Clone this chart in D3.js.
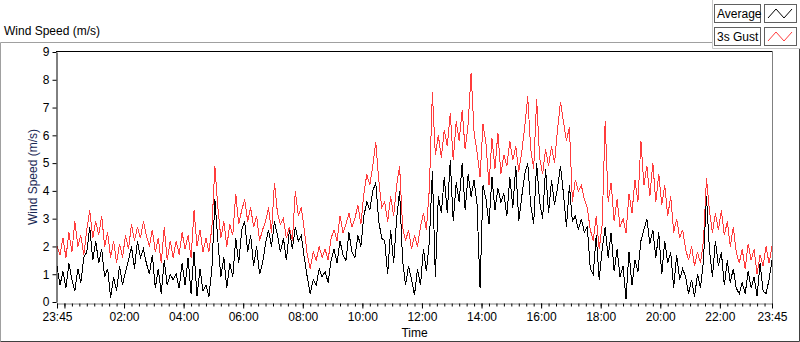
<!DOCTYPE html>
<html>
<head>
<meta charset="utf-8">
<script src="https://cdn.jsdelivr.net/npm/d3@7"></script>
<style>
  body { margin: 0; background: #fff; }
  svg { display: block; font-family: "Liberation Sans", Arial, sans-serif; }
</style>
</head>
<body>
<div class="chart-container"></div>
<script>
// samples every 6 minutes, starting 23:45 the day before
var startTime = new Date(2000, 0, 1, 23, 45);
var stepMinutes = 6;

// 3s gust (red), one row per hour
var gustValues = [
  2.0,1.7,2.3,1.6,2.5,1.8,2.9,2.0,2.4,1.7,
  2.6,3.3,2.3,2.9,2.4,3.1,2.0,2.5,1.6,2.2,
  1.4,2.1,1.6,2.4,1.9,2.8,2.2,2.7,2.3,2.9,
  2.4,2.0,2.6,1.8,2.3,1.4,2.7,1.5,2.2,1.6,
  2.2,1.7,2.5,1.9,2.4,1.6,3.3,2.0,2.6,1.8,
  2.3,1.8,2.7,4.9,3.4,2.3,2.9,2.0,2.8,2.4,
  3.9,2.8,3.3,3.7,2.9,3.4,2.7,3.1,2.2,2.6,
  2.9,3.4,2.5,4.3,3.2,2.8,3.0,2.3,2.7,2.2,
  4.0,3.1,3.4,2.6,1.7,1.2,1.8,1.5,2.0,1.6,
  1.9,1.5,2.3,2.6,2.2,3.1,2.5,2.8,3.2,2.7,
  3.0,3.5,2.8,3.9,4.6,4.2,4.9,5.75,4.4,3.4,
  3.6,2.9,3.8,3.1,4.2,4.9,2.7,2.2,2.6,1.9,
  2.4,2.0,2.7,3.2,2.6,4.1,7.55,5.3,6.0,5.2,
  6.2,5.6,6.8,5.1,6.5,5.8,6.9,5.5,6.4,8.25,
  6.1,5.4,4.5,6.4,5.7,4.2,5.9,4.8,6.1,4.6,
  5.3,4.9,5.8,5.1,5.6,4.7,5.4,6.3,7.4,5.5,
  4.8,7.3,5.2,4.6,5.5,4.9,5.6,5.0,6.2,7.2,
  6.5,5.8,6.3,3.6,4.4,4.0,4.2,3.7,3.4,2.6,
  2.2,3.1,1.9,2.8,6.5,3.6,4.3,2.9,3.7,2.7,
  3.0,2.5,3.9,3.2,4.4,3.6,5.8,4.2,4.9,3.8,
  5.0,3.6,4.6,3.5,4.2,3.1,3.8,2.5,3.0,2.3,
  2.6,1.9,1.5,2.0,1.3,1.8,1.4,2.2,4.45,3.3,
  2.5,3.2,2.6,3.3,2.4,2.9,2.0,2.7,1.8,1.4,
  1.9,1.2,2.1,1.5,1.9,1.0,1.7,1.3,2.0,1.4,2.0
];

// average (black)
var averageValues = [
  1.3,0.6,1.1,0.5,1.4,0.8,0.4,1.2,0.7,1.6,
  1.8,2.7,1.5,2.2,1.4,1.9,0.9,1.2,0.15,0.9,
  0.4,1.3,0.6,1.1,1.5,2.0,1.2,2.2,1.6,1.9,
  1.4,1.0,1.7,0.5,1.2,0.3,1.5,0.6,1.0,0.8,
  1.0,0.5,1.4,0.6,1.6,0.3,1.8,0.2,1.2,0.4,
  0.6,0.2,1.2,3.7,2.2,0.9,1.6,0.5,1.4,0.9,
  2.3,1.4,2.6,2.9,1.8,2.4,1.3,2.0,1.0,1.4,
  2.1,2.6,2.0,2.9,2.4,1.8,2.3,1.5,2.6,1.9,
  2.7,2.2,2.4,1.6,0.9,0.3,0.8,0.6,1.2,0.9,
  1.1,0.7,1.5,1.9,1.4,2.2,1.7,1.5,2.5,1.8,
  1.6,2.4,2.0,3.1,3.6,3.3,4.0,4.3,2.9,2.3,
  2.2,1.0,2.6,1.4,3.0,4.0,1.5,0.6,1.3,0.8,
  0.25,1.2,0.6,1.9,1.1,2.2,4.7,0.9,3.8,3.2,
  4.5,3.2,5.1,2.9,4.3,3.6,5.0,3.3,4.6,3.8,
  4.4,3.5,0.5,4.2,3.7,2.8,4.5,3.3,4.1,3.6,
  3.9,3.1,4.5,3.4,4.9,2.9,3.8,4.6,5.0,3.5,
  2.8,5.0,3.6,3.0,4.8,3.2,4.4,3.5,4.1,4.9,
  3.9,2.7,4.2,2.9,3.1,2.6,3.0,2.5,2.7,1.2,
  1.0,2.4,0.8,1.9,2.7,1.6,2.5,1.1,1.9,0.9,
  1.3,0.1,1.8,0.6,1.5,1.1,2.2,2.6,3.0,2.1,
  2.6,1.6,2.5,1.0,2.2,1.4,1.8,0.5,1.7,0.8,
  1.2,0.9,0.3,0.8,0.2,1.0,0.5,1.5,3.8,1.9,
  0.9,2.2,1.3,1.8,0.6,1.5,0.7,1.2,0.5,0.3,
  0.7,0.3,1.1,0.5,0.9,0.2,1.4,0.4,0.3,0.8,1.5
];

var yTickValues = [0, 1, 2, 3, 4, 5, 6, 7, 8, 9];
var xLabelHours = [2, 4, 6, 8, 10, 12, 14, 16, 18, 20, 22];
var seriesNames = ["Average", "3s Gust"];
var seriesColors = ["#000000", "#ff3c3c"];

var ChartBuilder = (function() {
  var width = 800, height = 342;
  var plot = { left: 57, right: 772, top: 52, bottom: 302 };

  var _timeAt = function(i) {
    return new Date(startTime.getTime() + i * stepMinutes * 60000);
  };

  var build = function() {
    var endTime = d3.timeHour.offset(startTime, 24);

    var svg = d3.select(".chart-container")
                .append("svg")
                  .attr("width", width)
                  .attr("height", height);

    // outer graph frame
    svg.append("path")
       .attr("d", "M0.5,341.5 V42.5 H712.5")
       .attr("fill", "none").attr("stroke", "#a0a0a0");
    svg.append("path")
       .attr("d", "M0.5,341.5 H799.5 V48.5")
       .attr("fill", "none").attr("stroke", "#404040");
    svg.append("path")
       .attr("d", "M712.5,0 V48.5 H800")
       .attr("fill", "none").attr("stroke", "#c8c8c8");

    svg.append("text")
       .attr("x", 4).attr("y", 35)
       .attr("font-size", "12px")
       .text("Wind Speed (m/s)");

    var xScale = d3.scaleTime()
                   .domain([startTime, endTime])
                   .range([plot.left, plot.right]);

    var yScale = d3.scaleLinear()
                   .domain([0, 9])
                   .range([plot.bottom, plot.top]);

    // plot frame: top black, right gray
    svg.append("line")
       .attr("x1", plot.left - 1).attr("x2", plot.right + 1)
       .attr("y1", plot.top - 0.5).attr("y2", plot.top - 0.5)
       .attr("stroke", "#000");
    svg.append("line")
       .attr("x1", plot.right + 0.5).attr("x2", plot.right + 0.5)
       .attr("y1", plot.top - 1).attr("y2", plot.bottom + 1)
       .attr("stroke", "#808080");

    svg.append("clipPath").attr("id", "plot-clip")
       .append("rect")
         .attr("x", plot.left).attr("y", plot.top)
         .attr("width", plot.right - plot.left)
         .attr("height", plot.bottom - plot.top);

    var line = d3.line()
                 .x(function(d, i) { return xScale(_timeAt(i)); })
                 .y(function(d) { return yScale(d); });

    var lines = svg.append("g").attr("clip-path", "url(#plot-clip)");
    lines.append("path")
         .datum(gustValues)
         .attr("d", line)
         .attr("fill", "none")
         .attr("stroke", seriesColors[1])
         .attr("stroke-width", 1)
         .attr("shape-rendering", "crispEdges");
    lines.append("path")
         .datum(averageValues)
         .attr("d", line)
         .attr("fill", "none")
         .attr("stroke", seriesColors[0])
         .attr("stroke-width", 1)
         .attr("shape-rendering", "crispEdges");

    // y axis
    var yAxis = d3.axisLeft(yScale)
                  .tickValues(yTickValues)
                  .tickSize(4)
                  .tickSizeOuter(0)
                  .tickPadding(3);
    var yG = svg.append("g")
                .attr("transform", "translate(" + (plot.left - 0.5) + ",0)")
                .call(yAxis);
    yG.select(".domain").attr("stroke", "#000");
    yG.selectAll("text").attr("font-size", "12px").attr("fill", "#000")
      .attr("font-family", "Liberation Sans, Arial, sans-serif");

    // x axis: minor ticks every 15 min, major every 2 h
    var xMinor = d3.axisBottom(xScale)
                   .ticks(d3.timeMinute.every(15))
                   .tickSize(3)
                   .tickSizeOuter(0)
                   .tickFormat("");
    var xMinorG = svg.append("g")
                     .attr("transform", "translate(0," + (plot.bottom + 1.5) + ")")
                     .call(xMinor);
    xMinorG.select(".domain").attr("stroke", "#808080");

    var majorTicks = [startTime, d3.timeDay.ceil(startTime)];
    xLabelHours.forEach(function(h) {
      majorTicks.push(d3.timeHour.offset(d3.timeDay.ceil(startTime), h));
    });
    majorTicks.push(endTime);

    var timeFormat = d3.timeFormat("%H:%M");
    var xMajor = d3.axisBottom(xScale)
                   .tickValues(majorTicks)
                   .tickSize(5)
                   .tickSizeOuter(0)
                   .tickPadding(4)
                   .tickFormat(function(d) {
                     return (d.getHours() === 0 && d.getMinutes() === 0) ? "" : timeFormat(d);
                   });
    var xMajorG = svg.append("g")
                     .attr("transform", "translate(0," + (plot.bottom + 1.5) + ")")
                     .call(xMajor);
    xMajorG.select(".domain").remove();
    xMajorG.selectAll("text").attr("font-size", "12px").attr("fill", "#000")
           .attr("font-family", "Liberation Sans, Arial, sans-serif");

    svg.append("text")
       .attr("x", (plot.left + plot.right) / 2)
       .attr("y", 337)
       .attr("text-anchor", "middle")
       .attr("font-size", "12px")
       .text("Time");

    svg.append("text")
       .attr("transform", "translate(37," + ((plot.top + plot.bottom) / 2) + ") rotate(-90)")
       .attr("text-anchor", "middle")
       .attr("font-size", "12px")
       .attr("fill", "#1a2a55")
       .text("Wind Speed (m/s)");

    _buildLegend(svg);
  };

  var _buildLegend = function(svg) {
    var legendX = 714, legendY = 4, rowStep = 23;
    seriesNames.forEach(function(name, i) {
      var g = svg.append("g")
                 .attr("transform", "translate(" + legendX + "," + (legendY + i * rowStep) + ")");
      g.append("rect")
       .attr("x", 0.5).attr("y", 0.5)
       .attr("width", 46).attr("height", 18)
       .attr("fill", "#fff").attr("stroke", "#606060");
      g.append("text")
       .attr("x", 3).attr("y", 14)
       .attr("font-size", "12px")
       .text(name);
      g.append("rect")
       .attr("x", 50.5).attr("y", 0.5)
       .attr("width", 32).attr("height", 18)
       .attr("fill", "#fff").attr("stroke", "#606060");
      g.append("path")
       .attr("d", "M54,14 L62,5 L70,14 L78,5")
       .attr("fill", "none")
       .attr("stroke", seriesColors[i])
       .attr("stroke-width", 1);
    });
  };

  return { build: build };
})();

ChartBuilder.build();
</script>
</body>
</html>
